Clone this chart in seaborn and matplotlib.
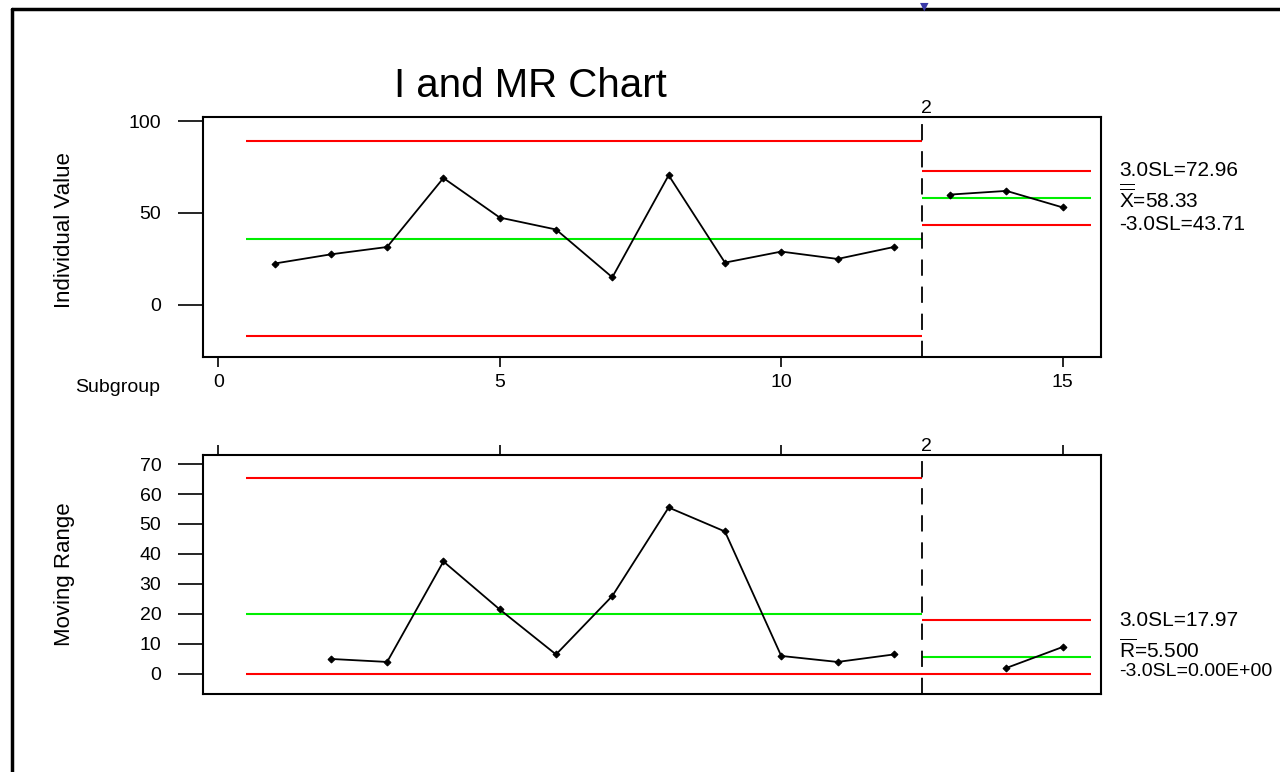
import matplotlib
matplotlib.use("Agg")
import matplotlib.pyplot as plt
from matplotlib.lines import Line2D
import numpy as np
import pandas as pd
import seaborn as sns

# individual measurements, two stages (historical 1-12, new process 13-15)
subgroup = list(range(1, 16))
individual = [22.5, 27.5, 31.5, 69, 47.5, 41, 15, 70.5, 23, 29, 25, 31.5, 60, 62, 53]
stage = [1] * 12 + [2] * 3
xticks = [0, 5, 10, 15]
iticks = [0, 50, 100]
mrticks = [0, 10, 20, 30, 40, 50, 60, 70]

d2 = 1.128
D4 = 3.267

df = pd.DataFrame({"subgroup": subgroup, "value": individual, "stage": stage})
df["mr"] = df.groupby("stage")["value"].diff().abs()

limits = {}
for s, g in df.groupby("stage"):
    xbar = g["value"].mean()
    mrbar = g["mr"].mean()
    sig = 3 * mrbar / d2
    limits[s] = dict(lo=g["subgroup"].min() - 0.5, hi=g["subgroup"].max() + 0.5,
                     xbar=xbar, ucl=xbar + sig, lcl=xbar - sig,
                     mrbar=mrbar, mrucl=D4 * mrbar, mrlcl=0.0)

sns.set_style("white")
plt.rcParams["font.family"] = ["Liberation Sans", "DejaVu Sans"]
plt.rcParams["mathtext.fontset"] = "custom"
plt.rcParams["mathtext.rm"] = "Liberation Sans"
for k in ("text.color", "axes.labelcolor", "xtick.color", "ytick.color"):
    plt.rcParams[k] = "black"

fig = plt.figure(figsize=(12.8, 7.72), dpi=100)
ax1 = fig.add_axes([0.1586, 0.5376, 0.7016, 0.3109])
ax2 = fig.add_axes([0.1586, 0.1010, 0.7016, 0.3096])

RED = "#ff0000"
GREEN = "#00ee00"
change = limits[2]["lo"]
FS = 14
RFS = 15

# I chart
for s, L in limits.items():
    ax1.hlines([L["ucl"], L["lcl"]], L["lo"], L["hi"], color=RED, lw=1.5)
    ax1.hlines(L["xbar"], L["lo"], L["hi"], color=GREEN, lw=1.5)
sns.lineplot(data=df, x="subgroup", y="value", units="stage", estimator=None,
             color="black", marker="D", markersize=3.5, markeredgecolor="black",
             lw=1.3, ax=ax1)
ax1.axvline(change, color="black", lw=1.3, dashes=(9, 6))
ax1.set_xlim(-0.27, 15.68)
ax1.set_ylim(-28.3, 102.2)
ax1.set_yticks(iticks)
ax1.set_xticks(xticks)
ax1.set_xlabel("")
ax1.set_ylabel("Individual Value", fontsize=16)
ax1.yaxis.set_label_coords(-0.1425, 0.53)
ax1.tick_params(axis="y", direction="out", length=18, width=1.2, pad=12, labelsize=FS, left=True)
ax1.tick_params(axis="x", direction="out", length=7, width=1.2, pad=5, labelsize=FS, bottom=True)
ax1.text(-0.048, -0.127, "Subgroup", transform=ax1.transAxes, ha="right", va="center", fontsize=FS)
ax1.text(change + 0.07, 102.2, "2", ha="center", va="bottom", fontsize=FS)

L = limits[2]
tr1 = ax1.get_yaxis_transform()
ax1.text(1.02, L["ucl"], f"3.0SL={L['ucl']:.2f}", transform=tr1, va="center", fontsize=RFS)
ax1.text(1.02, L["xbar"], r"$\overline{\overline{\mathrm{X}}}$" + f"={L['xbar']:.2f}",
         transform=tr1, va="center", fontsize=RFS)
ax1.text(1.02, L["lcl"], f"-3.0SL={L['lcl']:.2f}", transform=tr1, va="center", fontsize=RFS)

# MR chart
for s, L in limits.items():
    ax2.hlines([L["mrucl"], L["mrlcl"]], L["lo"], L["hi"], color=RED, lw=1.5)
    ax2.hlines(L["mrbar"], L["lo"], L["hi"], color=GREEN, lw=1.5)
sns.lineplot(data=df.dropna(subset=["mr"]), x="subgroup", y="mr", units="stage", estimator=None,
             color="black", marker="D", markersize=3.5, markeredgecolor="black",
             lw=1.3, ax=ax2)
ax2.axvline(change, color="black", lw=1.3, dashes=(9, 6))
ax2.set_xlim(-0.27, 15.68)
ax2.set_ylim(-6.7, 73)
ax2.set_yticks(mrticks)
ax2.set_xticks(xticks)
ax2.set_xlabel("")
ax2.set_ylabel("Moving Range", fontsize=16)
ax2.yaxis.set_label_coords(-0.1425, 0.5)
ax2.tick_params(axis="y", direction="out", length=18, width=1.2, pad=12, labelsize=FS, left=True)
ax2.tick_params(axis="x", direction="out", length=7, width=1.2, top=True, bottom=False,
                labeltop=False, labelbottom=False)
ax2.text(change + 0.07, 73, "2", ha="center", va="bottom", fontsize=FS)

L = limits[2]
tr2 = ax2.get_yaxis_transform()
ax2.text(1.02, L["mrucl"], f"3.0SL={L['mrucl']:.2f}", transform=tr2, va="center", fontsize=RFS)
# nudged up so it does not sit on top of the lower limit text
ax2.text(1.02, L["mrbar"] + 2.5, r"$\overline{\mathrm{R}}$" + f"={L['mrbar']:.3f}",
         transform=tr2, va="center", fontsize=RFS)
ax2.text(1.02, L["mrlcl"] + 0.7, "-3.0SL=0.00E+00", transform=tr2, va="center", fontsize=14)

for ax in (ax1, ax2):
    for sp in ax.spines.values():
        sp.set_visible(True)
        sp.set_color("black")
        sp.set_linewidth(1.5)

fig.text(0.414, 0.888, "I and MR Chart", ha="center", va="center", fontsize=29)

# window frame
fig.add_artist(Line2D([0.0094, 0.0094], [0, 0.988], color="black", lw=2.5))
fig.add_artist(Line2D([0.0094, 1], [0.988, 0.988], color="black", lw=2.5))
fig.text(0.722, 0.991, "\u25bc", color="#3a3aa8", ha="center", va="center", fontsize=8,
         family="DejaVu Sans")

fig.savefig("out.png", dpi=100)
